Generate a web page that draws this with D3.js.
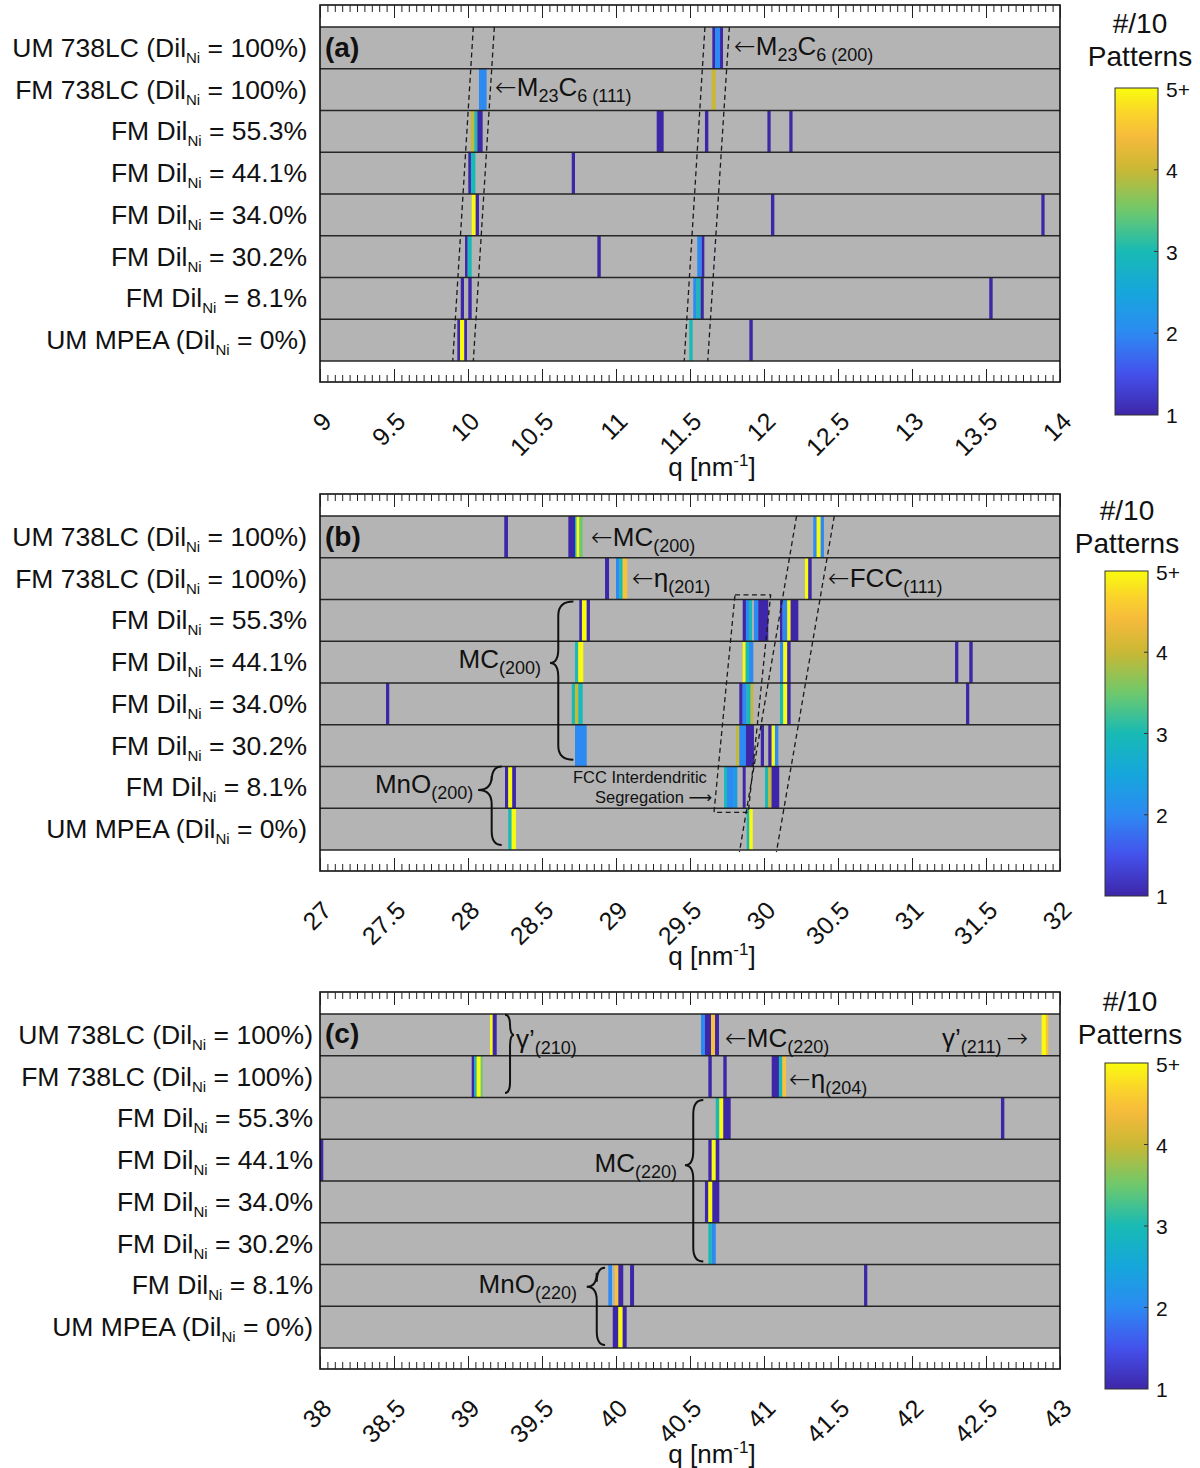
<!DOCTYPE html>
<html>
<head>
<meta charset="utf-8">
<script src="https://cdn.jsdelivr.net/npm/d3@7"></script>
<style>
  body { margin: 0; background: #fff; }
  svg { display: block; font-family: "Liberation Sans", Arial, "DejaVu Sans", sans-serif; }
</style>
</head>
<body>
<svg id="fig" width="1200" height="1468"></svg>
<script>
// ---- Row labels (prefix, subscript, suffix) ----
const rowLabels = [
  ["UM 738LC (Dil", "Ni", " = 100%)"],
  ["FM 738LC (Dil", "Ni", " = 100%)"],
  ["FM Dil", "Ni", " = 55.3%"],
  ["FM Dil", "Ni", " = 44.1%"],
  ["FM Dil", "Ni", " = 34.0%"],
  ["FM Dil", "Ni", " = 30.2%"],
  ["FM Dil", "Ni", " = 8.1%"],
  ["UM MPEA (Dil", "Ni", " = 0%)"]
];

// ---- q tick labels for the three ranges ----
const ticksA = [9, 9.5, 10, 10.5, 11, 11.5, 12, 12.5, 13, 13.5, 14];
const ticksB = [27, 27.5, 28, 28.5, 29, 29.5, 30, 30.5, 31, 31.5, 32];
const ticksC = [38, 38.5, 39, 39.5, 40, 40.5, 41, 41.5, 42, 42.5, 43];

// ---- colour bar ----
const cbarValues = [1, 2, 3, 4, 5];
const cbarLabels = ["1", "2", "3", "4", "5+"];

// ---- detected peak bins: [row, q start, q end, patterns out of 10] ----
const peaksA = [
  [0, 11.651, 11.669, 1], [0, 11.669, 11.703, 2], [0, 11.703, 11.723, 1],
  [1, 10.074, 10.126, 2], [1, 11.646, 11.674, 4],
  [2, 10.020, 10.043, 4], [2, 10.043, 10.063, 3], [2, 10.063, 10.099, 1],
  [2, 11.275, 11.322, 1], [2, 11.601, 11.624, 1], [2, 12.023, 12.045, 1], [2, 12.171, 12.193, 1],
  [3, 10.002, 10.020, 1], [3, 10.020, 10.050, 3], [3, 10.701, 10.723, 1],
  [4, 10.025, 10.052, 5], [4, 10.052, 10.074, 1], [4, 12.047, 12.070, 1], [4, 13.874, 13.896, 1],
  [5, 9.980, 9.998, 1], [5, 9.998, 10.025, 3], [5, 10.874, 10.897, 1],
  [5, 11.549, 11.579, 2], [5, 11.579, 11.597, 1],
  [6, 9.951, 9.973, 1], [6, 10.002, 10.025, 1], [6, 11.522, 11.545, 2], [6, 11.545, 11.572, 3],
  [6, 11.572, 11.593, 1], [6, 13.522, 13.545, 1],
  [7, 9.928, 9.946, 1], [7, 9.946, 9.975, 5], [7, 9.975, 9.993, 1],
  [7, 11.495, 11.518, 3], [7, 11.901, 11.924, 1]
];

const peaksB = [
  [0, 28.245, 28.270, 1], [0, 28.678, 28.723, 1], [0, 28.723, 28.734, 3], [0, 28.734, 28.752, 5],
  [0, 28.752, 28.775, 3.5], [0, 30.333, 30.356, 2], [0, 30.356, 30.383, 5], [0, 30.383, 30.405, 2],
  [1, 28.926, 28.953, 1], [1, 29.000, 29.022, 2], [1, 29.022, 29.045, 3], [1, 29.045, 29.076, 4.5],
  [1, 30.277, 30.299, 5], [1, 30.299, 30.322, 1],
  [2, 28.752, 28.770, 1], [2, 28.770, 28.802, 5], [2, 28.802, 28.824, 1],
  [2, 29.856, 29.878, 1], [2, 29.878, 29.899, 2], [2, 29.899, 29.919, 3], [2, 29.932, 29.961, 2],
  [2, 29.961, 30.029, 1], [2, 30.108, 30.126, 1], [2, 30.126, 30.157, 2], [2, 30.157, 30.180, 5],
  [2, 30.180, 30.232, 1],
  [3, 28.723, 28.745, 3], [3, 28.745, 28.779, 5], [3, 29.856, 29.876, 5], [3, 29.876, 29.899, 3],
  [3, 29.899, 29.928, 2], [3, 30.108, 30.130, 2], [3, 30.130, 30.157, 5], [3, 30.157, 30.180, 1],
  [3, 31.291, 31.313, 1], [3, 31.387, 31.410, 1],
  [4, 27.446, 27.468, 1], [4, 28.701, 28.723, 3], [4, 28.723, 28.745, 4], [4, 28.745, 28.775, 3],
  [4, 29.833, 29.856, 1], [4, 29.856, 29.883, 2], [4, 29.883, 29.910, 3], [4, 29.910, 29.928, 4],
  [4, 30.108, 30.130, 3], [4, 30.130, 30.157, 5], [4, 30.157, 30.180, 1], [4, 31.365, 31.387, 1],
  [5, 28.723, 28.802, 2], [5, 29.811, 29.833, 4], [5, 29.833, 29.878, 2], [5, 29.878, 29.932, 1],
  [5, 29.978, 30.000, 1], [5, 30.029, 30.052, 1], [5, 30.052, 30.074, 5], [5, 30.074, 30.097, 2],
  [6, 28.250, 28.272, 1], [6, 28.272, 28.299, 5], [6, 28.299, 28.324, 1],
  [6, 29.730, 29.750, 3], [6, 29.750, 29.791, 2], [6, 29.791, 29.820, 2.3], [6, 29.856, 29.876, 1],
  [6, 30.007, 30.029, 3], [6, 30.029, 30.051, 4], [6, 30.051, 30.103, 1],
  [7, 28.272, 28.295, 3], [7, 28.295, 28.324, 5], [7, 29.883, 29.901, 3], [7, 29.901, 29.924, 5]
];

const peaksC = [
  [0, 39.149, 39.167, 5], [0, 39.167, 39.194, 1],
  [0, 40.574, 40.601, 2], [0, 40.601, 40.642, 1], [0, 40.642, 40.669, 4.5], [0, 40.669, 40.696, 1],
  [0, 42.876, 42.905, 5], [0, 42.905, 42.921, 4.5],
  [1, 39.025, 39.043, 1], [1, 39.043, 39.059, 3], [1, 39.059, 39.086, 5], [1, 39.086, 39.099, 3.5],
  [1, 40.624, 40.647, 1], [1, 40.725, 40.748, 1],
  [1, 41.052, 41.101, 1], [1, 41.101, 41.124, 3], [1, 41.124, 41.149, 4.5],
  [2, 40.674, 40.698, 3], [2, 40.698, 40.725, 5], [2, 40.725, 40.775, 1], [2, 42.601, 42.624, 1],
  [3, 38.000, 38.022, 1], [3, 40.624, 40.647, 1], [3, 40.647, 40.674, 5], [3, 40.674, 40.698, 1],
  [4, 40.601, 40.624, 1], [4, 40.624, 40.651, 5], [4, 40.651, 40.698, 1],
  [5, 40.624, 40.647, 3], [5, 40.647, 40.674, 2],
  [6, 39.948, 39.973, 2], [6, 39.991, 40.016, 4.5], [6, 40.016, 40.049, 1], [6, 40.095, 40.122, 1],
  [6, 41.676, 41.698, 1],
  [7, 39.978, 40.016, 1], [7, 40.016, 40.045, 5], [7, 40.045, 40.072, 1]
];

// ---- dashed guide paths: [q, row position] vertices ----
const guidesA = [
  [[10.036, 0], [9.897, 8]], [[10.178, 0], [10.036, 8]],
  [[11.601, 0], [11.461, 8]], [[11.766, 0], [11.620, 8]]
];
const guidesB = [
  [[30.220, 0], [29.834, 8.05]], [[30.475, 0], [30.084, 8.05]],
  [[29.804, 1.89], [30.045, 1.89], [29.894, 7.10], [29.662, 7.10], [29.804, 1.89]]
];
const guidesC = [];

// ---- text annotations: q, row position, rich-text parts (a = arrow, n = normal, s = subscript) ----
const annotA = [
  { q: 9.034, r: 0.72, parts: [["(a)", "b"]] },
  { q: 11.797, r: 0.67, parts: [["←", "a"], ["M", "n"], ["23", "s"], ["C", "n"], ["6 (200)", "s"]] },
  { q: 10.182, r: 1.65, parts: [["←", "a"], ["M", "n"], ["23", "s"], ["C", "n"], ["6 (111)", "s"]] }
];
const annotB = [
  { q: 27.034, r: 0.72, parts: [["(b)", "b"]] },
  { q: 28.831, r: 0.72, parts: [["←", "a"], ["MC", "n"], ["(200)", "s"]] },
  { q: 29.108, r: 1.70, parts: [["←", "a"], ["η", "n"], ["(201)", "s"]] },
  { q: 30.432, r: 1.70, parts: [["←", "a"], ["FCC", "n"], ["(111)", "s"]] },
  { q: 28.493, r: 3.64, anchor: "end", parts: [["MC", "n"], ["(200)", "s"]] },
  { q: 28.036, r: 6.63, anchor: "end", parts: [["MnO", "n"], ["(200)", "s"]] },
  { q: 28.709, r: 6.40, parts: [["FCC Interdendritic", "m"]] },
  { q: 28.858, r: 6.87, parts: [["Segregation ⟶", "m"]] }
];
const annotC = [
  { q: 38.034, r: 0.69, parts: [["(c)", "b"]] },
  { q: 39.324, r: 0.81, parts: [["γ’", "n"], ["(210)", "s"]] },
  { q: 40.736, r: 0.79, parts: [["←", "a"], ["MC", "n"], ["(220)", "s"]] },
  { q: 42.203, r: 0.79, parts: [["γ’", "n"], ["(211) ", "s"], ["→", "a"]] },
  { q: 41.169, r: 1.77, parts: [["←", "a"], ["η", "n"], ["(204)", "s"]] },
  { q: 40.412, r: 3.78, anchor: "end", parts: [["MC", "n"], ["(220)", "s"]] },
  { q: 39.736, r: 6.68, anchor: "end", parts: [["MnO", "n"], ["(220)", "s"]] }
];

// ---- curly braces grouping rows: tip / spine / arm-end q, top / tip / bottom row positions ----
const bracesA = [];
const bracesB = [
  { tip: 28.554, spine: 28.610, end: 28.712, r0: 2.05, rt: 3.52, r1: 5.84 },
  { tip: 28.068, spine: 28.160, end: 28.228, r0: 6.00, rt: 6.56, r1: 7.88 }
];
const bracesC = [
  { tip: 39.311, spine: 39.284, end: 39.250, r0: 0.02, rt: 0.50, r1: 1.89 },
  { tip: 40.466, spine: 40.522, end: 40.590, r0: 2.06, rt: 3.62, r1: 5.93 },
  { tip: 39.802, spine: 39.870, end: 39.926, r0: 6.08, rt: 6.53, r1: 7.93 }
];

// ---- parula-like colour map for pattern counts ----
const color = d3.scaleLinear()
  .domain([1, 1.5, 2, 2.5, 3, 3.5, 4, 4.4, 4.7, 5])
  .range(["#3e26a8", "#4451ec", "#2d8af2", "#15a6dc", "#18bab5", "#6ec96c",
          "#c9b834", "#f6ba3c", "#fbd52a", "#f9fb0e"])
  .clamp(true);

const svg = d3.select("#fig");
svg.append("rect").attr("width", 1200).attr("height", 1468).attr("fill", "#fff");

// colour-bar gradient
const defs = svg.append("defs");
const grad = defs.append("linearGradient").attr("id", "parula")
  .attr("x1", 0).attr("y1", 1).attr("x2", 0).attr("y2", 0);
d3.range(0, 1.0001, 0.02).forEach(t => {
  grad.append("stop").attr("offset", t).attr("stop-color", color(1 + 4 * t));
});

const FS = { n: 26, s: 18, b: 28, m: 16.5, a: 26 };

function richText(g, x, y, parts, anchor) {
  const t = g.append("text").attr("x", x).attr("y", y)
    .attr("text-anchor", anchor || "start").attr("fill", "#111");
  let shift = 0;
  parts.forEach(([txt, kind]) => {
    const target = kind === "s" ? 6 : 0;
    const sp = t.append("tspan").text(txt)
      .attr("font-size", FS[kind])
      .attr("dy", target - shift);
    if (kind === "b") sp.attr("font-weight", "bold");
    if (kind === "a") sp.attr("font-family", "DejaVu Sans").attr("font-weight", 200);
    shift = target;
  });
  return t;
}

const panels = [
  { top: 5, domain: [9, 14], ticks: ticksA, peaks: peaksA, guides: guidesA, annot: annotA, braces: bracesA,
    labelX: 307, cbar: { x: 1115, y: 88, w: 43, h: 327, tx: 1140, ty: 33 } },
  { top: 494, domain: [27, 32], ticks: ticksB, peaks: peaksB, guides: guidesB, annot: annotB, braces: bracesB,
    labelX: 307, cbar: { x: 1105, y: 571, w: 43, h: 325, tx: 1127, ty: 520 } },
  { top: 992, domain: [38, 43], ticks: ticksC, peaks: peaksC, guides: guidesC, annot: annotC, braces: bracesC,
    labelX: 313, cbar: { x: 1105, y: 1063, w: 43, h: 326, tx: 1130, ty: 1011 } }
];

panels.forEach(p => {
  const g = svg.append("g");
  const x = d3.scaleLinear().domain(p.domain).range([320, 1060]);
  const y = d3.scaleLinear().domain([0, 8]).range([p.top + 22, p.top + 356]);
  const boxTop = p.top, boxBot = p.top + 377;
  const rowH = y(1) - y(0);

  // grey sample rows
  g.append("g").selectAll("rect").data(d3.range(8)).join("rect")
    .attr("x", x(p.domain[0])).attr("y", r => y(r))
    .attr("width", x(p.domain[1]) - x(p.domain[0])).attr("height", rowH)
    .attr("fill", "#b4b4b4");

  // peak bins coloured by number of patterns
  g.append("g").selectAll("rect").data(p.peaks).join("rect")
    .attr("x", d => x(d[1])).attr("y", d => y(d[0]))
    .attr("width", d => x(d[2]) - x(d[1])).attr("height", rowH)
    .attr("fill", d => color(d[3]));

  // row separators
  g.append("g").selectAll("line").data(d3.range(9)).join("line")
    .attr("x1", x(p.domain[0])).attr("x2", x(p.domain[1]))
    .attr("y1", r => y(r)).attr("y2", r => y(r))
    .attr("stroke", "#262626").attr("stroke-width", 1.6);

  // dashed guides
  const line = d3.line().x(d => x(d[0])).y(d => y(d[1]));
  g.append("g").selectAll("path").data(p.guides).join("path")
    .attr("d", line).attr("fill", "none")
    .attr("stroke", "#1a1a1a").attr("stroke-width", 1.3).attr("stroke-dasharray", "5,3.5");

  // axes box
  g.append("rect").attr("x", 320).attr("y", boxTop).attr("width", 740).attr("height", boxBot - boxTop)
    .attr("fill", "none").attr("stroke", "#111").attr("stroke-width", 1.6);

  // inward ticks, top and bottom
  const minorVals = d3.range(0, 101).map(i => p.domain[0] + i * 0.05);
  const mk = (axis, yPos, vals, size) => {
    const a = g.append("g").attr("transform", `translate(0,${yPos})`)
      .call(axis(x).tickValues(vals).tickSize(size).tickFormat(""));
    a.select(".domain").remove();
    a.selectAll("line").attr("stroke", "#222").attr("stroke-width", 1);
  };
  mk(d3.axisBottom, boxTop, minorVals, 7);
  mk(d3.axisBottom, boxTop, p.ticks, 13);
  mk(d3.axisTop, boxBot, minorVals, 7);
  mk(d3.axisTop, boxBot, p.ticks, 13);

  // rotated tick labels
  g.append("g").selectAll("text").data(p.ticks).join("text")
    .attr("transform", d => `translate(${x(d) + 13},${boxBot + 41}) rotate(-45)`)
    .attr("text-anchor", "end").attr("font-size", 25).attr("fill", "#111")
    .text(d => String(d));

  // axis title
  const xt = g.append("text").attr("x", 712).attr("y", boxBot + 94)
    .attr("text-anchor", "middle").attr("font-size", 26).attr("fill", "#111");
  xt.append("tspan").text("q [nm");
  xt.append("tspan").text("-1").attr("font-size", 17).attr("dy", -10);
  xt.append("tspan").text("]").attr("dy", 10);

  // row labels
  rowLabels.forEach((lab, i) => {
    const t = g.append("text").attr("x", p.labelX).attr("y", y(i + 0.5) + 9)
      .attr("text-anchor", "end").attr("font-size", 26.5).attr("fill", "#111");
    t.append("tspan").text(lab[0]);
    t.append("tspan").text(lab[1]).attr("font-size", 15).attr("dy", 6);
    t.append("tspan").text(lab[2]).attr("dy", -6);
  });

  // annotations
  p.annot.forEach(a => richText(g, x(a.q), y(a.r), a.parts, a.anchor));

  // braces
  p.braces.forEach(b => {
    const xt0 = x(b.tip), xs = x(b.spine), xe = x(b.end);
    const y0 = y(b.r0), yt = y(b.rt), y1 = y(b.r1);
    const rc = Math.min(14, Math.abs(xe - xs) * 1.3 + 4);
    const d = `M${xe},${y0} Q${xs},${y0} ${xs},${y0 + rc} L${xs},${yt - rc} ` +
              `Q${xs},${yt} ${xt0},${yt} Q${xs},${yt} ${xs},${yt + rc} ` +
              `L${xs},${y1 - rc} Q${xs},${y1} ${xe},${y1}`;
    g.append("path").attr("d", d).attr("fill", "none").attr("stroke", "#111").attr("stroke-width", 2);
  });

  // colour bar
  const c = p.cbar;
  const cy = d3.scaleLinear().domain([1, 5]).range([c.y + c.h, c.y]);
  g.append("rect").attr("x", c.x).attr("y", c.y).attr("width", c.w).attr("height", c.h)
    .attr("fill", "url(#parula)").attr("stroke", "#333").attr("stroke-width", 1);
  g.append("g").selectAll("line").data(cbarValues.slice(1, 4)).join("line")
    .attr("x1", c.x + c.w - 4).attr("x2", c.x + c.w)
    .attr("y1", d => cy(d)).attr("y2", d => cy(d)).attr("stroke", "#333");
  g.append("g").selectAll("text").data(cbarValues).join("text")
    .attr("x", c.x + c.w + 8).attr("y", d => cy(d) + (d === 5 ? 9 : 8))
    .attr("font-size", 21).attr("fill", "#111")
    .text((d, i) => cbarLabels[i]);
  g.append("text").attr("x", c.tx).attr("y", c.ty).attr("text-anchor", "middle")
    .attr("font-size", 28).attr("fill", "#111").text("#/10");
  g.append("text").attr("x", c.tx).attr("y", c.ty + 33).attr("text-anchor", "middle")
    .attr("font-size", 28).attr("fill", "#111").text("Patterns");
});
</script>
</body>
</html>
